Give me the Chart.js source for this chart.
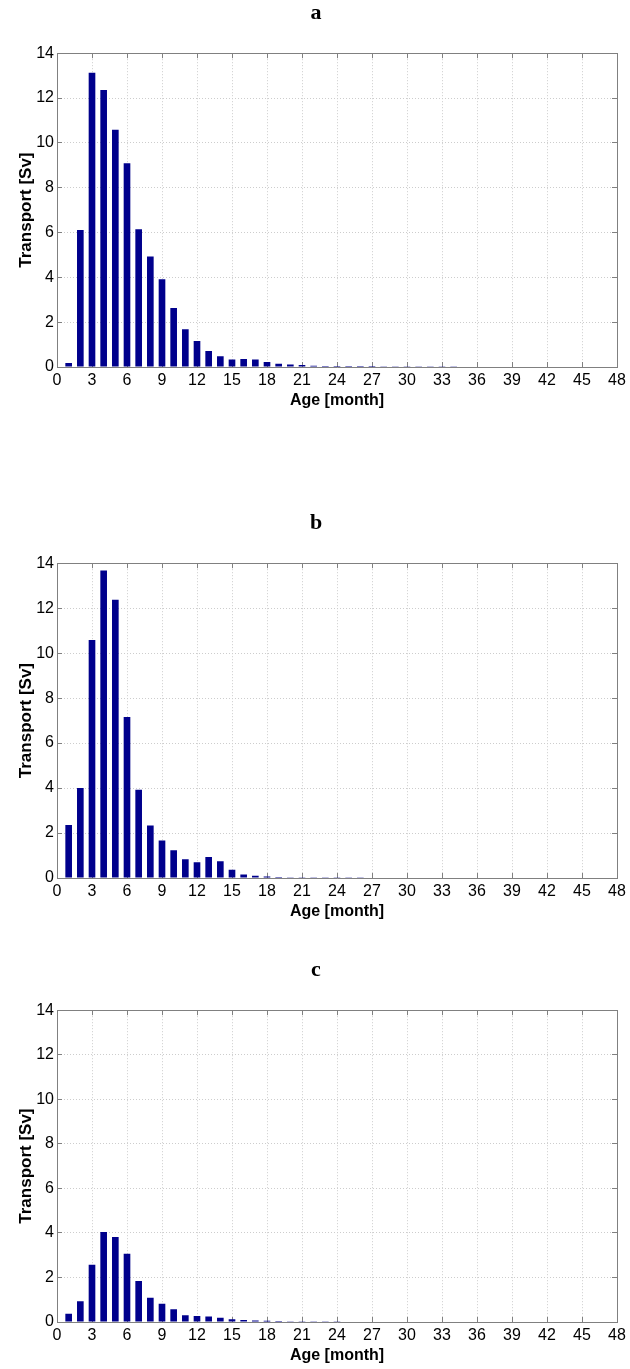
<!DOCTYPE html>
<html>
<head>
<meta charset="utf-8">
<script src="https://cdn.jsdelivr.net/npm/chart.js@4"></script>
<style>
  body { margin: 0; background: #fff; }
  .panel { position: absolute; left: 0; width: 630px; }
</style>
</head>
<body>
<div class="panel" style="top:0px"><canvas id="chartA" width="630" height="412"></canvas></div>
<div class="panel" style="top:510px"><canvas id="chartB" width="630" height="413"></canvas></div>
<div class="panel" style="top:957px"><canvas id="chartC" width="630" height="410"></canvas></div>
<script>
// age in months (x categories)
var months = [1, 2, 3, 4, 5, 6, 7, 8, 9, 10, 11, 12, 13, 14, 15, 16, 17, 18, 19, 20, 21, 22, 23, 24,
              25, 26, 27, 28, 29, 30, 31, 32, 33, 34, 35, 36, 37, 38, 39, 40, 41, 42, 43, 44, 45, 46, 47, 48];

// transport [Sv] per age bin
var transportA = [0.18, 6.11, 13.13, 12.36, 10.58, 9.09, 6.15, 4.93, 3.91, 2.63, 1.68, 1.16, 0.71, 0.48, 0.34, 0.36,
                  0.33, 0.22, 0.14, 0.11, 0.09, 0.06, 0.05, 0.05, 0.04, 0.04, 0.04, 0.03, 0.03, 0.03, 0.03, 0.03,
                  0.03, 0.03, 0.02, 0.02, 0.02, 0.02, 0.02, 0.02, 0.02, 0.02, 0, 0, 0, 0.02, 0, 0];
var transportB = [2.36, 4.0, 10.59, 13.67, 12.37, 7.16, 3.93, 2.33, 1.67, 1.23, 0.83, 0.70, 0.93, 0.74, 0.37, 0.16,
                  0.10, 0.07, 0.04, 0.03, 0.03, 0.03, 0.03, 0.03, 0.03, 0.03, 0.02, 0.02, 0.02, 0.02, 0.02, 0.02,
                  0.02, 0.02, 0, 0, 0, 0.02, 0.02, 0, 0, 0.02, 0.02, 0, 0, 0, 0, 0];
var transportC = [0.37, 0.93, 2.57, 4.04, 3.82, 3.07, 1.84, 1.09, 0.82, 0.57, 0.30, 0.27, 0.25, 0.19, 0.12, 0.09,
                  0.07, 0.06, 0.04, 0.03, 0.03, 0.03, 0.03, 0.03, 0.02, 0.02, 0.02, 0.02, 0.02, 0.02, 0, 0.02,
                  0.02, 0, 0, 0, 0, 0, 0, 0.02, 0, 0, 0, 0, 0, 0, 0, 0];

var panelTitles = ['a', 'b', 'c'];
var xTitle = 'Age [month]';
var yTitle = 'Transport [Sv]';

var sansFont = 'Liberation Sans, Arial, Helvetica, sans-serif';
var gridColor = '#cdcdcd';
var boxColor = '#808080';

// axis that only draws short inward tick marks on one edge of the box
function edgeAxis(pos, max, step) {
    var horizontal = (pos === 'top' || pos === 'bottom');
    return {
        type: 'linear',
        position: pos,
        offset: false,
        weight: 0,
        min: 0,
        max: max,
        ticks: { display: false, stepSize: step },
        grid: { offset: false, drawOnChartArea: false, tickLength: -5, tickColor: boxColor },
        border: { display: pos === 'top' || pos === 'right', color: boxColor },
        afterFit: function(scale) {
            if (horizontal) { scale.height = 0; } else { scale.width = 0; }
        }
    };
}

function makeConfig(title, values) {
    return {
        type: 'bar',
        data: {
            labels: months,
            datasets: [{
                data: values,
                backgroundColor: '#00008c',
                borderWidth: 0,
                barPercentage: 0.57,
                categoryPercentage: 1.0
            }]
        },
        options: {
            responsive: false,
            animation: false,
            layout: { padding: { left: 15, right: 13, top: 0, bottom: 0 } },
            plugins: {
                legend: { display: false },
                tooltip: { enabled: false },
                title: {
                    display: true,
                    text: title,
                    color: '#000',
                    font: { family: 'Liberation Serif, Times New Roman, serif', size: 22, weight: 'bold' },
                    padding: { top: 0, bottom: 26.8 }
                }
            },
            scales: {
                x: {
                    type: 'linear',
                    position: 'bottom',
                    offset: false,
                    weight: 1,
                    min: 0,
                    max: 48,
                    ticks: { stepSize: 3, autoSkip: false, maxRotation: 0, padding: 4, color: '#000',
                             font: { family: sansFont, size: 16 } },
                    grid: { offset: false, color: gridColor, drawTicks: false },
                    border: { color: boxColor, dash: [1, 2] },
                    title: { display: true, text: xTitle, color: '#000', padding: { top: 0, bottom: 2 },
                             font: { family: sansFont, size: 16, weight: 'bold' } },
                    afterFit: function(scale) { scale.height = 45; }
                },
                y: {
                    position: 'left',
                    weight: 1,
                    min: 0,
                    max: 14,
                    ticks: { stepSize: 2, padding: 3, color: '#000', font: { family: sansFont, size: 16 } },
                    grid: { color: gridColor, drawTicks: false },
                    border: { color: boxColor, dash: [1, 2] },
                    title: { display: true, text: yTitle, color: '#000', padding: { top: 1, bottom: 0 },
                             font: { family: sansFont, size: 17, weight: 'bold' } },
                    afterFit: function(scale) { scale.width = 42; }
                },
                xBottomTicks: edgeAxis('bottom', 48, 3),
                xTop: edgeAxis('top', 48, 3),
                yLeftTicks: edgeAxis('left', 14, 2),
                yRight: edgeAxis('right', 14, 2)
            }
        }
    };
}

var chartA = new Chart(document.getElementById('chartA').getContext('2d'), makeConfig(panelTitles[0], transportA));
var chartB = new Chart(document.getElementById('chartB').getContext('2d'), makeConfig(panelTitles[1], transportB));
var chartC = new Chart(document.getElementById('chartC').getContext('2d'), makeConfig(panelTitles[2], transportC));
</script>
</body>
</html>
